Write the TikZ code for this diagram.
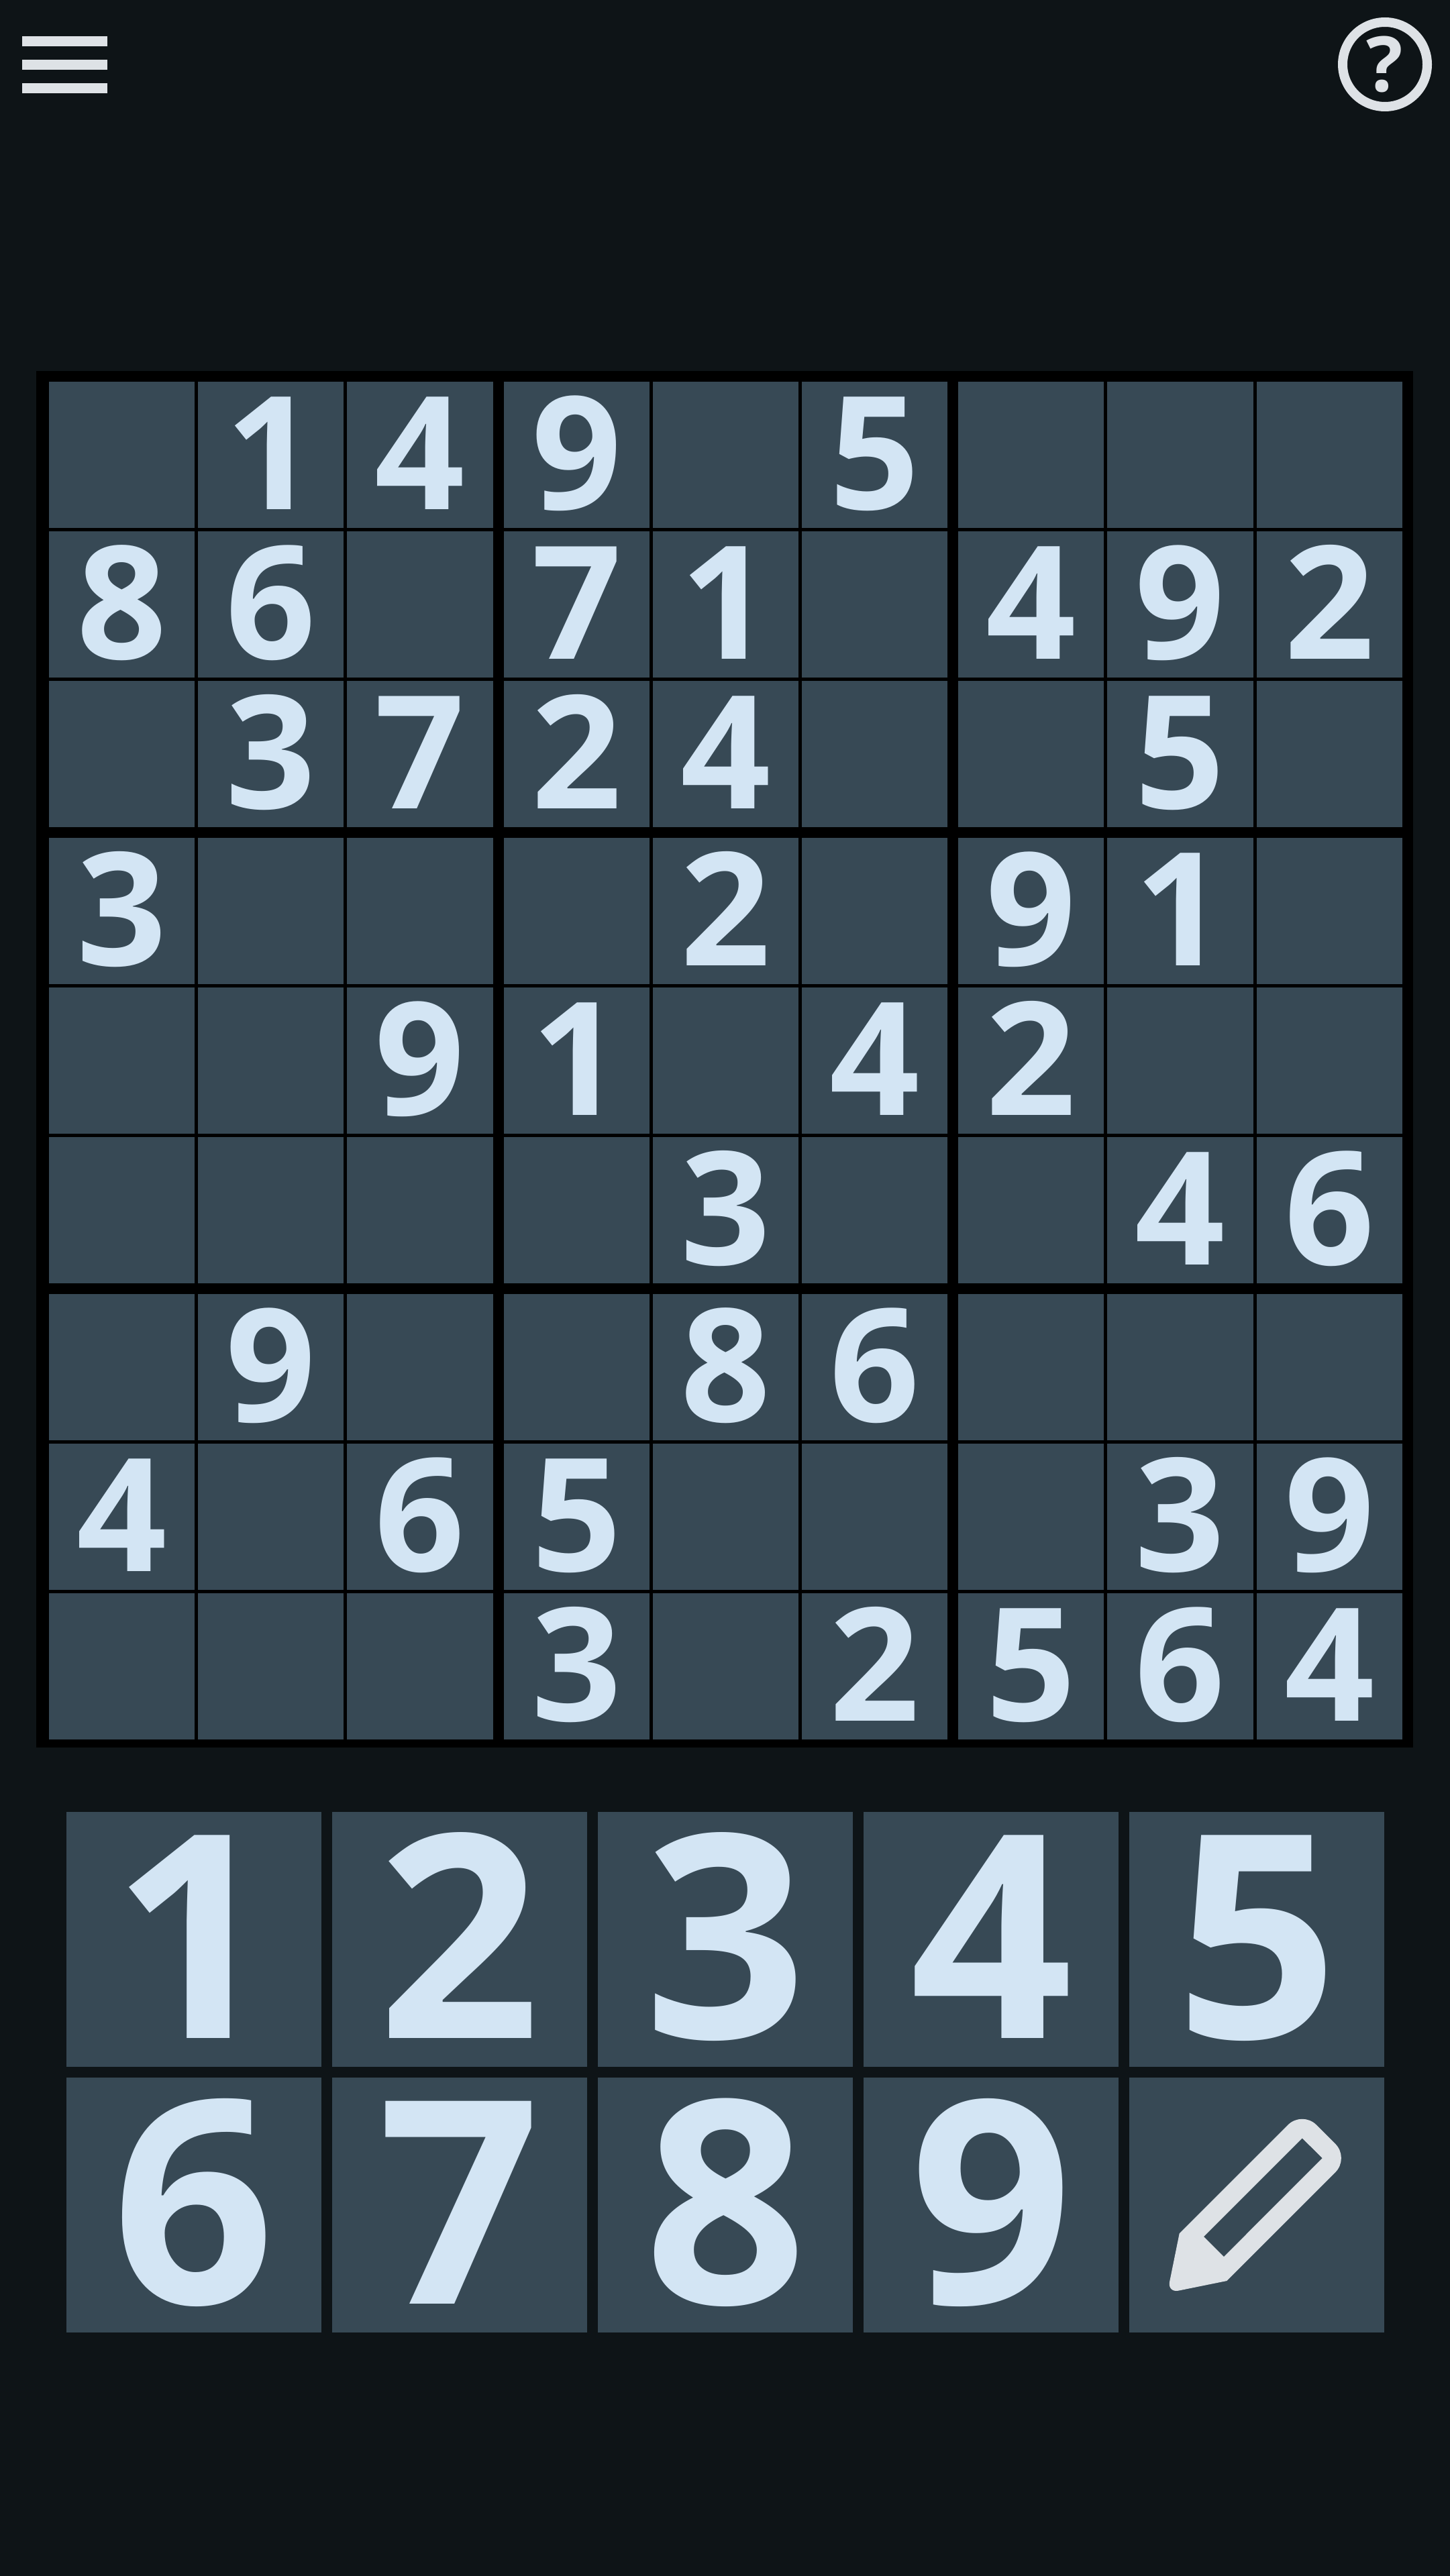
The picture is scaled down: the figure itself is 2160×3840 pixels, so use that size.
\documentclass[tikz,border=0pt]{standalone}
\usepackage{fontspec}
\setmainfont{Open Sans}
\usetikzlibrary{positioning}
\definecolor{screenbg}{HTML}{0E1417}
\definecolor{cellbg}{HTML}{374955}
\definecolor{digitfg}{HTML}{D3E5F4}
\definecolor{iconfg}{HTML}{DEE2E6}
\tikzset{
	plain/.style = { inner sep = 0pt, outer sep = 0pt },
	cell/.style = { plain, fill = cellbg, text = digitfg, minimum width = 217.2pt, minimum height = 218pt, text height = 170pt, text depth = 8pt, font = \fontsize{235}{235}\bfseries\selectfont },
	key/.style = { plain, fill = cellbg, text = digitfg, minimum size = 380pt, text height = 306pt, text depth = 12pt, font = \fontsize{424}{424}\bfseries\selectfont },
	bar/.style = { plain, fill = iconfg, minimum width = 127pt, minimum height = 15pt }
}
\begin{document}
\begin{tikzpicture}[x = 1pt, y = -1pt]
	\useasboundingbox (0, 0) rectangle (2160, 3840);
	\node [plain, fill = screenbg, minimum width = 2170pt, minimum height = 3850pt] (screen) at (1080, 1920) {};
	\node [bar, anchor = north west] (bar1) at (33, 54) {};
	\node [bar, below = 20pt of bar1] (bar2) {};
	\node [bar, below = 20pt of bar2] (bar3) {};
	\node [circle, plain, draw = iconfg, line width = 14pt, minimum size = 126pt, text = iconfg, font = \fontsize{114}{114}\bfseries\selectfont] (help) at (2064, 96) {?};
	\node [plain, fill = black, minimum width = 2052pt, minimum height = 2052pt, anchor = north west] (board) at (54, 553) {};

	\node [cell, anchor = north west] (c11) at (73, 569) {};
	\node [cell, right = 5pt of c11] (c12) {1};
	\node [cell, right = 5pt of c12] (c13) {4};
	\node [cell, right = 16pt of c13] (c14) {9};
	\node [cell, right = 5pt of c14] (c15) {};
	\node [cell, right = 5pt of c15] (c16) {5};
	\node [cell, right = 16pt of c16] (c17) {};
	\node [cell, right = 5pt of c17] (c18) {};
	\node [cell, right = 5pt of c18] (c19) {};

	\node [cell, below = 5pt of c11] (c21) {8};
	\node [cell, right = 5pt of c21] (c22) {6};
	\node [cell, right = 5pt of c22] (c23) {};
	\node [cell, right = 16pt of c23] (c24) {7};
	\node [cell, right = 5pt of c24] (c25) {1};
	\node [cell, right = 5pt of c25] (c26) {};
	\node [cell, right = 16pt of c26] (c27) {4};
	\node [cell, right = 5pt of c27] (c28) {9};
	\node [cell, right = 5pt of c28] (c29) {2};

	\node [cell, below = 5pt of c21] (c31) {};
	\node [cell, right = 5pt of c31] (c32) {3};
	\node [cell, right = 5pt of c32] (c33) {7};
	\node [cell, right = 16pt of c33] (c34) {2};
	\node [cell, right = 5pt of c34] (c35) {4};
	\node [cell, right = 5pt of c35] (c36) {};
	\node [cell, right = 16pt of c36] (c37) {};
	\node [cell, right = 5pt of c37] (c38) {5};
	\node [cell, right = 5pt of c38] (c39) {};

	\node [cell, below = 16pt of c31] (c41) {3};
	\node [cell, right = 5pt of c41] (c42) {};
	\node [cell, right = 5pt of c42] (c43) {};
	\node [cell, right = 16pt of c43] (c44) {};
	\node [cell, right = 5pt of c44] (c45) {2};
	\node [cell, right = 5pt of c45] (c46) {};
	\node [cell, right = 16pt of c46] (c47) {9};
	\node [cell, right = 5pt of c47] (c48) {1};
	\node [cell, right = 5pt of c48] (c49) {};

	\node [cell, below = 5pt of c41] (c51) {};
	\node [cell, right = 5pt of c51] (c52) {};
	\node [cell, right = 5pt of c52] (c53) {9};
	\node [cell, right = 16pt of c53] (c54) {1};
	\node [cell, right = 5pt of c54] (c55) {};
	\node [cell, right = 5pt of c55] (c56) {4};
	\node [cell, right = 16pt of c56] (c57) {2};
	\node [cell, right = 5pt of c57] (c58) {};
	\node [cell, right = 5pt of c58] (c59) {};

	\node [cell, below = 5pt of c51] (c61) {};
	\node [cell, right = 5pt of c61] (c62) {};
	\node [cell, right = 5pt of c62] (c63) {};
	\node [cell, right = 16pt of c63] (c64) {};
	\node [cell, right = 5pt of c64] (c65) {3};
	\node [cell, right = 5pt of c65] (c66) {};
	\node [cell, right = 16pt of c66] (c67) {};
	\node [cell, right = 5pt of c67] (c68) {4};
	\node [cell, right = 5pt of c68] (c69) {6};

	\node [cell, below = 16pt of c61] (c71) {};
	\node [cell, right = 5pt of c71] (c72) {9};
	\node [cell, right = 5pt of c72] (c73) {};
	\node [cell, right = 16pt of c73] (c74) {};
	\node [cell, right = 5pt of c74] (c75) {8};
	\node [cell, right = 5pt of c75] (c76) {6};
	\node [cell, right = 16pt of c76] (c77) {};
	\node [cell, right = 5pt of c77] (c78) {};
	\node [cell, right = 5pt of c78] (c79) {};

	\node [cell, below = 5pt of c71] (c81) {4};
	\node [cell, right = 5pt of c81] (c82) {};
	\node [cell, right = 5pt of c82] (c83) {6};
	\node [cell, right = 16pt of c83] (c84) {5};
	\node [cell, right = 5pt of c84] (c85) {};
	\node [cell, right = 5pt of c85] (c86) {};
	\node [cell, right = 16pt of c86] (c87) {};
	\node [cell, right = 5pt of c87] (c88) {3};
	\node [cell, right = 5pt of c88] (c89) {9};

	\node [cell, below = 5pt of c81] (c91) {};
	\node [cell, right = 5pt of c91] (c92) {};
	\node [cell, right = 5pt of c92] (c93) {};
	\node [cell, right = 16pt of c93] (c94) {3};
	\node [cell, right = 5pt of c94] (c95) {};
	\node [cell, right = 5pt of c95] (c96) {2};
	\node [cell, right = 16pt of c96] (c97) {5};
	\node [cell, right = 5pt of c97] (c98) {6};
	\node [cell, right = 5pt of c98] (c99) {4};

	\node [key, anchor = north west] (key1) at (99, 2701) {1};
	\node [key, right = 16pt of key1] (key2) {2};
	\node [key, right = 16pt of key2] (key3) {3};
	\node [key, right = 16pt of key3] (key4) {4};
	\node [key, right = 16pt of key4] (key5) {5};
	\node [key, below = 16pt of key1] (key6) {6};
	\node [key, right = 16pt of key6] (key7) {7};
	\node [key, right = 16pt of key7] (key8) {8};
	\node [key, right = 16pt of key8] (key9) {9};
	\node [key, right = 16pt of key9] (keypen) {};

	\fill [iconfg, even odd rule] (1757.7, 3329.3) [rounded corners = 30pt] -- (1940.7, 3146.3) -- (2011.3, 3217) [sharp corners] -- (1828.3, 3400) [rounded corners = 17pt] -- (1739.7, 3418) [sharp corners] -- cycle
		(1940.7, 3187.3) -- (1970.7, 3217) -- (1824, 3364) -- (1794, 3334) -- cycle;
\end{tikzpicture}
\end{document}
